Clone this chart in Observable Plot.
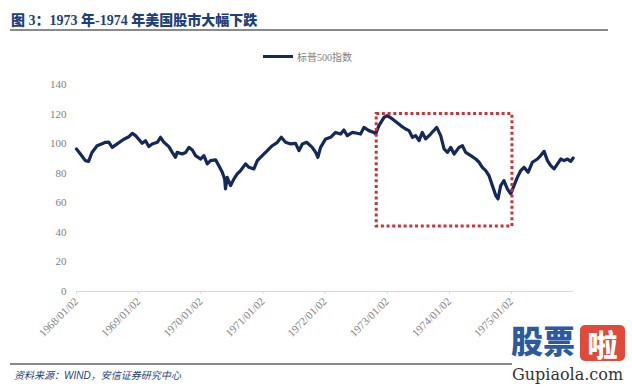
<!DOCTYPE html>
<html>
<head>
<meta charset="utf-8">
<script src="https://cdn.jsdelivr.net/npm/d3@7"></script>
<script src="https://cdn.jsdelivr.net/npm/@observablehq/plot@0.6"></script>
<style>
  html, body { margin: 0; padding: 0; background: #fff; }
  #page { position: relative; width: 632px; height: 388px; overflow: hidden; background: #fff; }
  .abs { position: absolute; }
  #title { left: 11px; top: 9px; font-family: "Liberation Serif", "Noto Sans CJK SC", serif; font-weight: bold; font-size: 14px; color: #1f3f7a; white-space: nowrap; }
  #title .cjk { font-family: "Noto Sans CJK SC", sans-serif; font-weight: 900; }
  #legend-text { left: 297px; top: 49px; font-family: "Liberation Serif", "Noto Sans CJK SC", serif; font-size: 10px; color: #7f7f7f; white-space: nowrap; }
  #source { left: 14px; top: 367px; font-family: "Noto Sans CJK SC", sans-serif; font-style: italic; font-size: 10px; color: #1f3f7a; white-space: nowrap; }
  #source b { font-family: "Liberation Sans", sans-serif; font-weight: normal; }
  #wm1 { left: 511px; top: 319px; font-family: "Noto Sans CJK SC", sans-serif; font-weight: 900; font-size: 32px; color: #2c5aa0; letter-spacing: 0px; white-space: nowrap; line-height: 40px; }
  #wm2 { left: 580px; top: 325px; width: 45px; height: 36px; background: #e04a3a; border-radius: 5px; color: #fff; font-family: "Noto Sans CJK SC", sans-serif; font-weight: 900; font-size: 30px; line-height: 36px; text-align: center; }
  #wm3 { left: 512px; top: 365px; font-family: "DejaVu Serif", serif; font-size: 16px; color: #333; white-space: nowrap; }
</style>
</head>
<body>
<div id="page">
  <div id="title" class="abs"><span class="cjk">图</span> 3<span class="cjk">：</span>1973 <span class="cjk">年</span>-1974 <span class="cjk">年美国股市大幅下跌</span></div>
  <div class="abs" style="left:10px;top:29px;width:598px;height:1.5px;background:#8a8a8a"></div>
  <div class="abs" style="left:263px;top:55px;width:30px;height:3px;background:#14285a"></div>
  <div id="legend-text" class="abs">标普500指数</div>
  <div id="chart" class="abs" style="left:0;top:60px"></div>
  <div class="abs" style="left:10px;top:363px;width:502px;height:1.5px;background:#8a8a8a"></div>
  <div id="source" class="abs">资料来源：<b>WIND</b>，安信证券研究中心</div>
  <div id="wm1" class="abs">股票</div>
  <div id="wm2" class="abs">啦</div>
  <div id="wm3" class="abs">Gupiaola.com</div>
</div>
<script>
// S&P 500 index
const dates = [
  "1968-01-02","1968-01-25","1968-02-23","1968-03-13","1968-04-02","1968-05-02","1968-06-01","1968-06-20",
  "1968-07-10","1968-07-30","1968-08-28","1968-10-06","1968-11-05","1968-11-25","1968-12-14","1969-01-02",
  "1969-01-22","1969-02-11","1969-03-02","1969-03-22","1969-04-21","1969-05-10","1969-05-30","1969-06-28",
  "1969-07-18","1969-08-06","1969-08-16","1969-09-15","1969-10-04","1969-10-24","1969-11-13","1969-12-02",
  "1969-12-31","1970-01-20","1970-02-09","1970-02-28","1970-03-30","1970-04-18","1970-05-08","1970-05-22",
  "1970-05-27","1970-06-06","1970-06-26","1970-07-15","1970-08-04","1970-08-24","1970-09-22","1970-10-12",
  "1970-11-10","1970-11-30","1970-12-29","1971-01-28","1971-02-26","1971-03-28","1971-04-20","1971-05-15",
  "1971-06-14","1971-07-13","1971-08-02","1971-08-22","1971-09-16","1971-10-19","1971-11-08","1971-11-21",
  "1971-12-07","1972-01-06","1972-02-04","1972-03-04","1972-04-03","1972-04-22","1972-05-12","1972-06-11",
  "1972-07-10","1972-07-29","1972-08-18","1972-09-16","1972-10-16","1972-10-26","1972-11-14","1972-12-14",
  "1973-01-02","1973-02-01","1973-02-20","1973-03-22","1973-04-20","1973-05-10","1973-05-30","1973-06-18",
  "1973-07-08","1973-07-27","1973-08-16","1973-09-14","1973-10-20","1973-11-12","1973-12-02","1973-12-22",
  "1974-01-10","1974-01-30","1974-02-28","1974-03-20","1974-04-08","1974-05-08","1974-06-06","1974-06-26",
  "1974-07-15","1974-08-04","1974-08-23","1974-09-12","1974-10-02","1974-10-15","1974-10-31","1974-11-19",
  "1974-12-09","1974-12-29","1975-01-17","1975-02-06","1975-02-26","1975-03-17","1975-04-10","1975-05-05",
  "1975-06-04","1975-06-23","1975-07-13","1975-08-02","1975-08-21","1975-09-10","1975-09-30","1975-10-19",
  "1975-11-08","1975-11-27","1975-12-17","1975-12-31"
];
const values = [
  96.4, 93.0, 88.5, 88.0, 94.0, 98.6, 100.0, 100.9,
  101.0, 97.5, 99.8, 103.0, 104.7, 107.0, 105.4, 103.0,
  100.2, 102.0, 98.0, 99.8, 100.9, 104.3, 100.9, 98.0,
  94.1, 90.8, 94.1, 93.0, 94.0, 97.5, 95.7, 91.9,
  89.6, 91.9, 86.3, 88.5, 89.0, 85.1, 80.6, 76.1,
  69.4, 77.2, 71.6, 76.0, 79.5, 81.8, 86.3, 84.0,
  82.9, 88.5, 91.9, 95.3, 98.6, 100.9, 104.3, 100.9,
  99.8, 100.2, 95.3, 99.8, 100.9, 97.5, 94.1, 90.8,
  97.5, 103.2, 104.3, 107.6, 106.5, 109.2, 105.4, 107.6,
  107.0, 106.5, 111.0, 108.8, 107.6, 106.5, 112.2, 117.8,
  118.9, 116.7, 115.0, 112.2, 109.9, 108.8, 104.3, 105.4,
  102.0, 107.6, 103.2, 106.5, 111.0, 105.4, 96.4, 94.1,
  97.5, 93.0, 97.5, 98.6, 94.1, 91.9, 89.6, 87.4,
  84.0, 81.8, 78.4, 71.6, 64.9, 62.6, 71.6, 75.0,
  69.4, 66.0, 71.6, 77.2, 81.8, 84.0, 80.6, 87.4,
  89.6, 91.9, 94.8, 88.5, 85.1, 82.9, 86.3, 89.6,
  88.5, 89.6, 88.0, 90.3
];
const xTickDates = ["1968-01-02","1969-01-02","1970-01-02","1971-01-02","1972-01-02","1973-01-02","1974-01-02","1975-01-02"];
const yTicks = [0, 20, 40, 60, 80, 100, 120, 140];
// highlighted crash window (red dotted box)
const boxStart = ["1972-11-01"];
const boxEnd = ["1975-01-08"];
const boxLow = [44];
const boxHigh = [120];

const parse = d3.utcParse("%Y-%m-%d");
const series = dates.map((d, i) => ({date: parse(d), value: values[i]}));
const box = boxStart.map((d, i) => ({x1: parse(d), x2: parse(boxEnd[i]), y1: boxLow[i], y2: boxHigh[i]}));

const chart = Plot.plot({
  width: 632,
  height: 290,
  marginTop: 24,
  marginBottom: 59,
  marginLeft: 76,
  marginRight: 59,
  style: {fontFamily: "'Liberation Serif', serif", fontSize: "11px", color: "#808080", background: "transparent", overflow: "visible"},
  x: {type: "utc", domain: [parse("1968-01-02"), parse("1976-01-02")]},
  y: {domain: [0, 140]},
  marks: [
    Plot.ruleY([0], {stroke: "#d9d9d9", strokeWidth: 1}),
    Plot.axisX({ticks: xTickDates.map(parse), tickFormat: d3.utcFormat("%Y/%m/%d"), tickRotate: -45, tickSize: 3, tickPadding: 5, stroke: "#d9d9d9", fill: "#808080", fontSize: 11, label: null}),
    Plot.axisY({ticks: yTicks, tickSize: 0, tickPadding: 10, fill: "#808080", fontSize: 11, label: null}),
    Plot.line(series, {x: "date", y: "value", stroke: "#14285a", strokeWidth: 3.2, strokeLinejoin: "round"}),
    Plot.rect(box, {x1: "x1", x2: "x2", y1: "y1", y2: "y2", fill: "none", stroke: "#d03038", strokeWidth: 3, strokeDasharray: "3,2.7"})
  ]
});
document.getElementById("chart").appendChild(chart);
</script>
</body>
</html>
